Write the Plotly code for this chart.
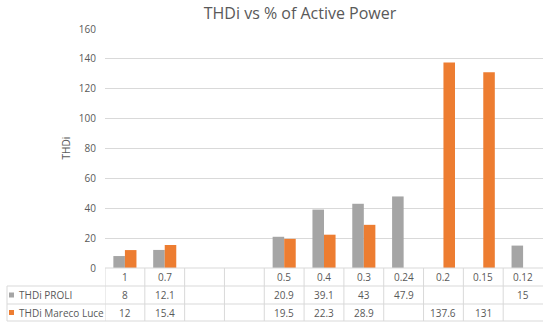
import plotly.graph_objects as go

categories = ["1", "0.7", "", "", "0.5", "0.4", "0.3", "0.24", "0.2", "0.15", "0.12"]
proli = [8, 12.1, None, None, 20.9, 39.1, 43, 47.9, None, None, 15]
mareco = [12, 15.4, None, None, 19.5, 22.3, 28.9, None, 137.6, 131, None]
series_names = ["THDi PROLI", "THDi Mareco Luce"]
colors = ["#A5A5A5", "#ED7D31"]
y_ticks = [0, 20, 40, 60, 80, 100, 120, 140, 160]

W, H = 550, 328
L, R, T, B = 105, 7, 29, 60
PW = W - L - R
PH = H - T - B
TXT = "#595959"
GRID = "#D9D9D9"
FONT = "Open Sans, Liberation Sans, sans-serif"

xs = list(range(len(categories)))

def py(pix):  # pixel y -> paper y
    return ((H - B) - pix) / PH

def px(pix):  # pixel x -> paper x
    return (pix - L) / PW

fig = go.Figure()
for name, vals, c in zip(series_names, [proli, mareco], colors):
    fig.add_trace(go.Bar(x=xs, y=vals, name=name, marker_color=c,
                         marker_line_width=0, showlegend=False))

shapes = []
annotations = []
row_lines = [268, 286, 304, 321]
left_px = 7
shapes.append(dict(type="line", xref="paper", yref="paper", x0=0, x1=1,
                   y0=py(row_lines[0]), y1=py(row_lines[0]), line=dict(color=GRID, width=1)))
for r in row_lines[1:]:
    shapes.append(dict(type="line", xref="paper", yref="paper", x0=px(left_px), x1=1,
                       y0=py(r), y1=py(r), line=dict(color=GRID, width=1)))
for i in range(len(categories)):
    shapes.append(dict(type="line", xref="x", yref="paper", x0=i - 0.5, x1=i - 0.5,
                       y0=py(row_lines[0]), y1=py(row_lines[-1]), line=dict(color=GRID, width=1)))
shapes.append(dict(type="line", xref="paper", yref="paper", x0=px(left_px), x1=px(left_px),
                   y0=py(row_lines[1]), y1=py(row_lines[-1]), line=dict(color=GRID, width=1)))

def row_center(k):
    return py((row_lines[k] + row_lines[k + 1]) / 2)

tf = dict(family=FONT, size=10, color=TXT)
for i, c in enumerate(categories):
    if c:
        annotations.append(dict(x=i, y=row_center(0), xref="x", yref="paper", text=c,
                                showarrow=False, font=tf, xanchor="center", yanchor="middle"))
for k, vals in enumerate([proli, mareco]):
    for i, v in enumerate(vals):
        if v is not None:
            annotations.append(dict(x=i, y=row_center(k + 1), xref="x", yref="paper",
                                    text=f"{v:g}", showarrow=False, font=tf,
                                    xanchor="center", yanchor="middle"))
    yc = (row_lines[k + 1] + row_lines[k + 2]) / 2
    shapes.append(dict(type="rect", xref="paper", yref="paper", x0=px(9), x1=px(14),
                       y0=py(yc + 2.5), y1=py(yc - 2.5), fillcolor=colors[k], line=dict(width=0)))
    annotations.append(dict(x=px(17), y=py(yc), xref="paper", yref="paper", text=series_names[k],
                            showarrow=False, font=tf, xanchor="left", yanchor="middle"))

annotations.append(dict(x=px(65), y=0.5, xref="paper", yref="paper", text="THDi", textangle=-90,
                        showarrow=False, font=dict(family=FONT, size=10, color=TXT),
                        xanchor="center", yanchor="middle"))

fig.update_layout(
    width=W, height=H,
    margin=dict(l=L, r=R, t=T, b=B),
    paper_bgcolor="white", plot_bgcolor="white",
    barmode="group", bargap=0.42, bargroupgap=0,
    title=dict(text="THDi vs % of Active Power", x=300 / W, xref="container", xanchor="center",
               y=1 - 13 / H, yref="container", yanchor="middle",
               font=dict(family=FONT, size=16, color=TXT)),
    xaxis=dict(range=[-0.5, len(categories) - 0.5], showticklabels=False, showgrid=False,
               zeroline=False, showline=False, ticks=""),
    yaxis=dict(range=[0, 160], tickvals=y_ticks, showgrid=True, gridcolor=GRID, gridwidth=1,
               zeroline=False, showline=False, ticks="outside", ticklen=6,
               tickcolor="rgba(0,0,0,0)", tickfont=dict(family=FONT, size=10, color=TXT)),
    shapes=shapes, annotations=annotations, showlegend=False,
)

fig.write_html("out.html", config={"displayModeBar": False},
               post_script="document.body.style.margin='0';")
